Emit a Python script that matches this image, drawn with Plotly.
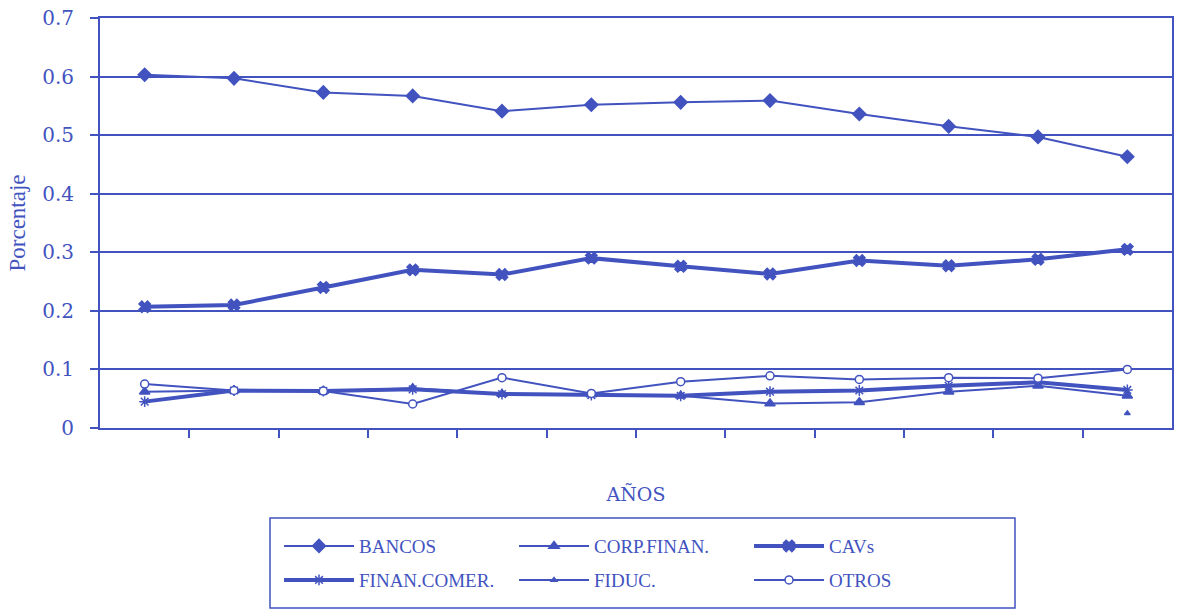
import plotly.graph_objects as go

# Periods (12 yearly observations, unlabeled on the axis)
periodos = list(range(1, 13))

bancos = [0.603, 0.597, 0.573, 0.567, 0.541, 0.552, 0.556, 0.559, 0.536, 0.515, 0.497, 0.463]
corp_finan = [0.062, 0.064, 0.063, 0.068, 0.058, 0.057, 0.055, 0.042, 0.044, 0.062, 0.072, 0.055]
cavs = [0.207, 0.210, 0.240, 0.270, 0.262, 0.290, 0.276, 0.263, 0.286, 0.277, 0.288, 0.305]
finan_comer = [0.045, 0.064, 0.063, 0.066, 0.058, 0.056, 0.055, 0.062, 0.064, 0.072, 0.078, 0.065]
fiduc = [None, None, None, None, None, None, None, None, None, None, None, 0.025]
otros = [0.075, 0.064, 0.063, 0.041, 0.086, 0.059, 0.079, 0.089, 0.083, 0.086, 0.085, 0.100]

y_ticks = [0, 0.1, 0.2, 0.3, 0.4, 0.5, 0.6, 0.7]

BLUE = "#4253bf"
FONT = "Liberation Serif"
WIDE = "DejaVu Serif"

fig = go.Figure()

def serie(nombre, valores, simbolo, tam, ancho, leyenda, relleno=BLUE, mode="lines+markers"):
    fig.add_trace(go.Scatter(
        x=periodos, y=valores, name=nombre, mode=mode,
        line=dict(color=BLUE, width=ancho),
        marker=dict(symbol=simbolo, size=tam, color=relleno,
                    line=dict(color=BLUE, width=1.5)),
        legend=leyenda, connectgaps=False,
    ))

# Row 1 of the legend
serie("BANCOS", bancos, "diamond", 10, 2, "legend")
serie("CORP.FINAN.", corp_finan, "triangle-up", 9, 2, "legend")
serie("CAVs", cavs, "x", 10, 4, "legend")
# Row 2 of the legend
serie("FINAN.COMER.", finan_comer, "asterisk-open", 9, 4, "legend2")
serie("FIDUC.", fiduc, "triangle-up", 5, 2, "legend2")
serie("OTROS", otros, "circle", 8, 2, "legend2", relleno="white")

leg_common = dict(
    orientation="h", xanchor="left", yanchor="middle",
    font=dict(family=FONT, size=19, color=BLUE),
    entrywidth=150, entrywidthmode="pixels",
    bgcolor="rgba(0,0,0,0)", borderwidth=0, itemwidth=70,
)

fig.update_layout(
    width=1180, height=611,
    margin=dict(l=100, r=8, t=18, b=183, autoexpand=False),
    paper_bgcolor="white", plot_bgcolor="white",
    font=dict(family=FONT, color=BLUE),
    showlegend=True,
    legend=dict(x=0.167, y=-0.288, **leg_common),
    legend2=dict(x=0.167, y=-0.371, **leg_common),
    xaxis=dict(
        range=[0.5, 12.5], showgrid=False, zeroline=False, automargin=False,
        showline=True, linecolor=BLUE, linewidth=2, mirror=True,
        tickmode="array", tickvals=[p + 0.5 for p in periodos[:-1]],
        ticks="outside", ticklen=8, tickwidth=2, tickcolor=BLUE,
        showticklabels=False,
        title=dict(text="AÑOS", font=dict(family=WIDE, size=19, color=BLUE), standoff=51),
    ),
    yaxis=dict(
        range=[0, 0.7], tickvals=y_ticks, ticktext=[str(v) for v in y_ticks],
        showgrid=True, gridcolor=BLUE, gridwidth=2, zeroline=False, automargin=False,
        showline=True, linecolor=BLUE, linewidth=2, mirror=True,
        ticks="outside", ticklen=8, tickwidth=2, tickcolor=BLUE,
        ticklabelstandoff=12,
        tickfont=dict(family=WIDE, size=20, color=BLUE),
        title=dict(text="Porcentaje", font=dict(family=FONT, size=23, color=BLUE), standoff=10),
    ),
    shapes=[dict(
        type="rect", xref="paper", yref="paper",
        x0=(270 - 100) / 1072, x1=(1015 - 100) / 1072,
        y0=(428 - 608) / 410, y1=(428 - 518) / 410,
        line=dict(color=BLUE, width=1.5), fillcolor="rgba(0,0,0,0)",
    )],
)

fig.write_html("out.html")
